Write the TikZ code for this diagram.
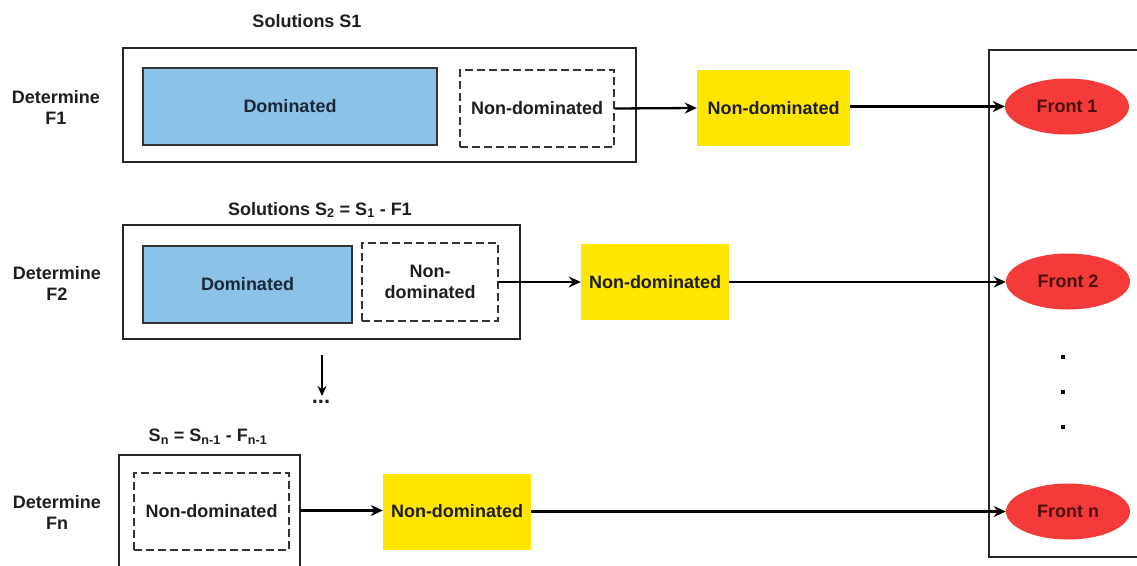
\documentclass[tikz,border=0pt]{standalone}
\usepackage{fontspec}
\setmainfont{Liberation Sans}
\usetikzlibrary{arrows.meta,shapes.geometric}
\definecolor{domblue}{HTML}{8CC1E8}
\definecolor{ndyellow}{HTML}{FFE600}
\definecolor{frontred}{HTML}{F53A3A}
\definecolor{txt}{HTML}{1E1E1E}
\definecolor{domtxt}{HTML}{1B2838}
\definecolor{fronttxt}{HTML}{4A1010}
\tikzset{
  x=1pt,y=-1pt,
  lbl/.style={font=\fontsize{18}{21}\selectfont\bfseries, text=txt, align=center, inner sep=0pt},
  outerbox/.style={draw=black!85, line width=1.4pt, fill=white},
  dombox/.style={draw=black!80, line width=1.2pt, fill=domblue, font=\fontsize{18}{21}\selectfont\bfseries, text=domtxt},
  ndbox/.style={draw=black!80, line width=1.2pt, dash pattern=on 8pt off 4pt, font=\fontsize{18}{21}\selectfont\bfseries, text=txt, align=center},
  yelbox/.style={fill=ndyellow, font=\fontsize{18}{21}\selectfont\bfseries, text=txt},
  front/.style={ellipse, fill=frontred, font=\fontsize{18}{21}\selectfont\bfseries, text=fronttxt, minimum width=124pt, minimum height=56pt, inner sep=0pt},
  conn/.style={line width=2.3pt, -{Stealth[length=12pt,width=11pt]}},
  dot/.style={rectangle, fill=black, inner sep=0pt, minimum size=4.5pt}
}
\begin{document}
\begin{tikzpicture}
\useasboundingbox (0,0) rectangle (1137,565);
% right container
\draw[line width=1.3pt, draw=black!85] (1140,50) -- (989,50) -- (989,557) -- (1140,557);

% Row 1
\node[lbl] (t1) at (307,21) {Solutions S1};
\node[lbl] (d1) at (56,107) {Determine\\F1};
\draw[outerbox] (123,48) rectangle (636,162);
\node[dombox, minimum width=294pt, minimum height=77pt] (dom1) at (290,106.5) {Dominated};
\node[ndbox, minimum width=154pt, minimum height=77pt] (nd1) at (537,108.5) {Non-dominated};
\node[yelbox, minimum width=153pt, minimum height=76pt] (y1) at (773.5,108) {Non-dominated};
\node[front] (f1) at (1067,106.5) {Front 1};
\draw[conn] (nd1.east) -- (y1.west);
\draw[conn] (y1.east |- f1.west) -- (f1.west);

% Row 2
\node[lbl] (t2) at (320,210) {Solutions S\textsubscript{2} = S\textsubscript{1} - F1};
\node[lbl] (d2) at (57,283) {Determine\\F2};
\draw[outerbox] (123,225) rectangle (520,339);
\node[dombox, minimum width=209pt, minimum height=77pt] (dom2) at (247.5,284.5) {Dominated};
\node[ndbox, minimum width=136pt, minimum height=78pt, text width=120pt] (nd2) at (430,282) {Non-\\dominated};
\node[yelbox, minimum width=148pt, minimum height=76pt] (y2) at (655,282) {Non-dominated};
\node[front] (f2) at (1068,281.5) {Front 2};
\draw[conn] (nd2.east |- y2.west) -- (y2.west);
\draw[conn] (y2.east) -- (y2.east -| f2.west);

% vertical dots
\node[dot] (v1) at (1063,357) {};
\node[dot] (v2) at (1063,392) {};
\node[dot] (v3) at (1063,427) {};

% down arrow and ellipsis
\coordinate (da) at (322,355);
\node[lbl, font=\fontsize{22}{24}\selectfont\bfseries] (ell) at (321,402) {...};
\draw[line width=2pt, -{Stealth[length=10pt,width=9pt]}] (da) -- (322,396);

% Row n
\node[lbl] (tn) at (208,437) {S\textsubscript{n} = S\textsubscript{n-1} - F\textsubscript{n-1}};
\node[lbl] (dn) at (57,512) {Determine\\Fn};
\draw[outerbox] (119,455) rectangle (300,575);
\node[ndbox, minimum width=155pt, minimum height=77pt] (ndn) at (211.5,511.5) {Non-dominated};
\node[yelbox, minimum width=148pt, minimum height=76pt] (yn) at (457,511.5) {Non-dominated};
\node[front] (fn) at (1068,511.5) {Front n};
\coordinate (bn) at (300,510.5);
\draw[conn] (bn) -- (bn -| yn.west);
\draw[conn] (yn.east |- fn.west) -- (fn.west);
\end{tikzpicture}
\end{document}
